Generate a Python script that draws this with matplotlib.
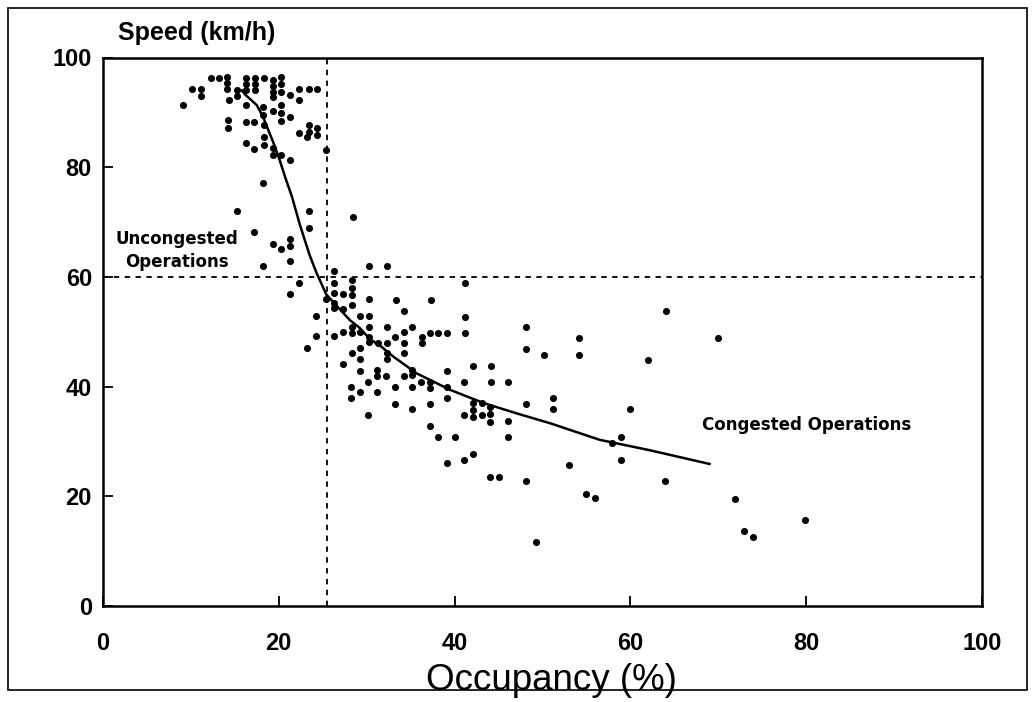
import matplotlib
matplotlib.use("Agg")
import matplotlib.pyplot as plt
from matplotlib.patches import Rectangle
from matplotlib import font_manager as fm
from matplotlib.font_manager import FontProperties

# ---------------- data ----------------
occupancy = [
    9.1, 10.1, 11.1, 11.1, 12.3, 13.2, 14.1, 14.1, 14.1, 14.3, 14.2, 14.2,
    15.3, 15.3, 16.3, 16.3, 16.3, 16.3, 16.3, 16.3, 17.3, 17.3, 17.3, 17.2, 17.2,
    18.3, 18.2, 18.2, 18.3, 18.3, 18.3, 19.3, 19.3, 19.3, 19.3, 19.3, 19.3, 19.3,
    20.3, 20.3, 20.3, 20.3, 20.3, 20.3, 20.2, 21.3, 21.3, 21.3, 22.3, 22.3, 22.3,
    23.4, 23.4, 23.4, 23.2, 24.4, 24.4, 24.4, 25.4,
    18.2, 15.2, 23.4, 23.4, 17.2, 19.3, 20.3, 21.3, 21.3, 21.3, 18.2, 28.4,
    30.3, 32.3, 22.3, 21.3,
    26.3, 26.3, 28.3, 28.3, 28.3, 26.3, 27.3, 25.4, 26.3, 26.3, 27.3, 28.3,
    30.3, 33.3, 37.3, 41.2, 34.3, 41.2, 24.2, 29.2, 30.3,
    24.2, 23.2, 26.3, 27.3, 28.3, 28.3, 29.2, 30.3, 30.3, 30.3, 32.3, 33.2,
    35.2, 34.3, 31.3, 32.3, 34.3, 36.3, 36.3, 37.2, 38.1, 39.1, 41.2,
    28.3, 29.2, 29.2, 27.3, 32.3, 32.3, 34.3,
    29.2, 31.2, 31.2, 32.2, 34.2, 35.2, 35.2, 36.2, 37.2, 37.2, 39.1, 39.1, 41.1,
    28.2, 28.2, 29.2, 30.2, 31.2, 33.2, 35.2, 33.2, 35.2, 37.2, 39.1, 41.1,
    30.2, 37.2, 38.1, 40.0, 39.1, 41.1,
    48.1, 48.1, 50.2, 54.1, 54.1, 42.1, 44.1, 44.1, 46.1, 42.1, 42.1, 42.1,
    43.1, 43.1, 44.0, 44.0, 44.0, 46.1, 46.1, 48.1, 51.2, 51.2, 42.1, 53.0,
    64.0, 62.0, 60.0, 57.9, 58.9, 58.9, 48.1, 55.0, 56.0, 63.9, 44.0, 45.0,
    70.0, 71.9, 79.9, 72.9, 74.0, 49.3,
]
speed = [
    91.3, 94.3, 94.3, 92.9, 96.2, 96.2, 96.4, 95.4, 94.3, 92.3, 88.6, 87.1,
    94.1, 93.0, 96.2, 95.2, 94.1, 91.3, 88.3, 84.4, 96.3, 95.2, 94.1, 88.3, 83.3,
    96.2, 91.0, 89.5, 87.7, 85.5, 84.0, 95.9, 94.8, 93.7, 92.8, 90.3, 83.5, 82.2,
    96.4, 95.1, 93.7, 91.3, 89.9, 88.4, 82.2, 93.2, 89.2, 81.3, 94.3, 92.3, 86.2,
    94.3, 87.7, 86.4, 85.5, 94.3, 87.1, 85.9, 83.1,
    77.2, 72.1, 72.1, 68.9, 68.1, 66.0, 65.0, 66.9, 65.7, 62.9, 62.0, 71.0,
    61.9, 61.9, 58.9, 56.8,
    61.0, 58.8, 59.4, 58.0, 56.7, 57.0, 56.9, 55.9, 55.2, 54.3, 54.1, 54.9,
    55.9, 55.8, 55.8, 58.8, 53.8, 52.7, 52.8, 52.8, 52.8,
    49.2, 47.0, 49.2, 49.9, 50.9, 49.7, 49.9, 50.9, 49.1, 48.2, 50.9, 49.1,
    50.9, 49.9, 47.9, 47.9, 47.9, 49.1, 47.9, 49.8, 49.8, 49.8, 49.8,
    46.1, 47.0, 45.0, 44.2, 46.1, 45.0, 46.1,
    42.9, 43.0, 42.0, 42.0, 42.0, 43.0, 42.1, 40.9, 40.9, 39.7, 42.8, 39.9, 40.9,
    40.0, 38.0, 39.1, 40.9, 39.1, 39.9, 39.9, 36.8, 35.9, 36.8, 37.9, 34.8,
    34.9, 32.9, 30.8, 30.8, 26.0, 26.6,
    50.8, 46.8, 45.8, 48.8, 45.8, 43.8, 43.8, 40.9, 40.9, 37.0, 35.7, 34.5,
    37.0, 34.8, 36.3, 35.0, 33.6, 33.8, 30.9, 36.8, 37.9, 35.9, 27.8, 25.7,
    53.8, 44.8, 35.9, 29.7, 30.8, 26.6, 22.7, 20.5, 19.6, 22.7, 23.6, 23.6,
    48.8, 19.5, 15.6, 13.7, 12.6, 11.7,
]

# fitted speed-occupancy curve
curve_occ = [15.8, 16.2, 17.5, 18.2, 18.8, 19.4, 20.1, 20.7, 21.5, 22.4, 23.0,
             23.5, 24.3, 25.4, 27.0, 28.1, 29.2, 30.4, 31.5, 33.0, 35.7, 39.5,
             43.3, 47.1, 50.9, 56.5, 62.2, 67.9, 69.0]
curve_speed = [94.0, 93.2, 91.3, 89.2, 86.8, 84.4, 81.3, 78.3, 74.6, 69.5, 66.5,
               64.0, 60.7, 56.8, 54.0, 52.1, 50.7, 48.6, 47.5, 45.5, 42.4, 39.4,
               37.0, 35.1, 33.3, 30.3, 28.4, 26.3, 25.9]

critical_occupancy = 25.5
critical_speed = 60

x_ticks = [0, 20, 40, 60, 80, 100]
y_ticks = [0, 20, 40, 60, 80, 100]


# ---------------- fonts (avoid the Narrow variant of Liberation Sans) ----------------
def sans_font(bold, size):
    want = "LiberationSans-Bold.ttf" if bold else "LiberationSans-Regular.ttf"
    for f in fm.fontManager.ttflist:
        if f.fname.endswith(want):
            return FontProperties(fname=f.fname, size=size)
    return FontProperties(family=["Liberation Sans", "DejaVu Sans"],
                          weight="bold" if bold else "normal", stretch="normal",
                          size=size)


# ---------------- figure ----------------
W, H = 1032, 702
fig = plt.figure(figsize=(W / 100, H / 100), dpi=100)
fig.patch.set_facecolor("white")

ax_left, ax_right, ax_top, ax_bottom = 103, 982, 57.5, 606
ax = fig.add_axes([ax_left / W, 1 - ax_bottom / H,
                   (ax_right - ax_left) / W, (ax_bottom - ax_top) / H])

ax.scatter(occupancy, speed, s=26, marker="o", color="black", linewidths=0, zorder=3)
ax.plot(curve_occ, curve_speed, color="black", lw=1.8, zorder=4)

ax.axhline(critical_speed, color="black", lw=1.3, ls=(0, (3, 3)), zorder=2)
ax.axvline(critical_occupancy, color="black", lw=1.3, ls=(0, (3, 3)), zorder=2)

ax.set_xlim(0, 100)
ax.set_ylim(0, 100)
ax.set_xticks(x_ticks)
ax.set_yticks(y_ticks)
ax.set_xticklabels([str(v) for v in x_ticks])
ax.set_yticklabels([str(v) for v in y_ticks])

tick_fp = sans_font(True, 17)
for lab in ax.get_xticklabels() + ax.get_yticklabels():
    lab.set_fontproperties(tick_fp)

ax.tick_params(axis="both", direction="in", length=7, width=1.3, colors="black")
ax.tick_params(axis="x", pad=19)
ax.tick_params(axis="y", pad=8)
for sp in ax.spines.values():
    sp.set_linewidth(1.8)
    sp.set_color("black")

ax.text(8.4, 64.8, "Uncongested\nOperations", ha="center", va="center",
        family="DejaVu Sans", weight="bold", size=12, linespacing=1.3)
ax.text(80.1, 33.0, "Congested Operations", ha="center", va="center",
        family="DejaVu Sans", weight="bold", size=12)

fig.text(118 / W, 1 - 33 / H, "Speed (km/h)", ha="left", va="center",
         fontproperties=sans_font(True, 18))
fig.text(551 / W, 1 - 680 / H, "Occupancy (%)", ha="center", va="center",
         fontproperties=sans_font(False, 26.5))

fig.add_artist(Rectangle((8 / W, 1 - 690 / H), (1027 - 8) / W, (690 - 8) / H,
                         transform=fig.transFigure, fill=False, lw=1.2,
                         edgecolor="black"))

fig.savefig("out.png", dpi=100)
